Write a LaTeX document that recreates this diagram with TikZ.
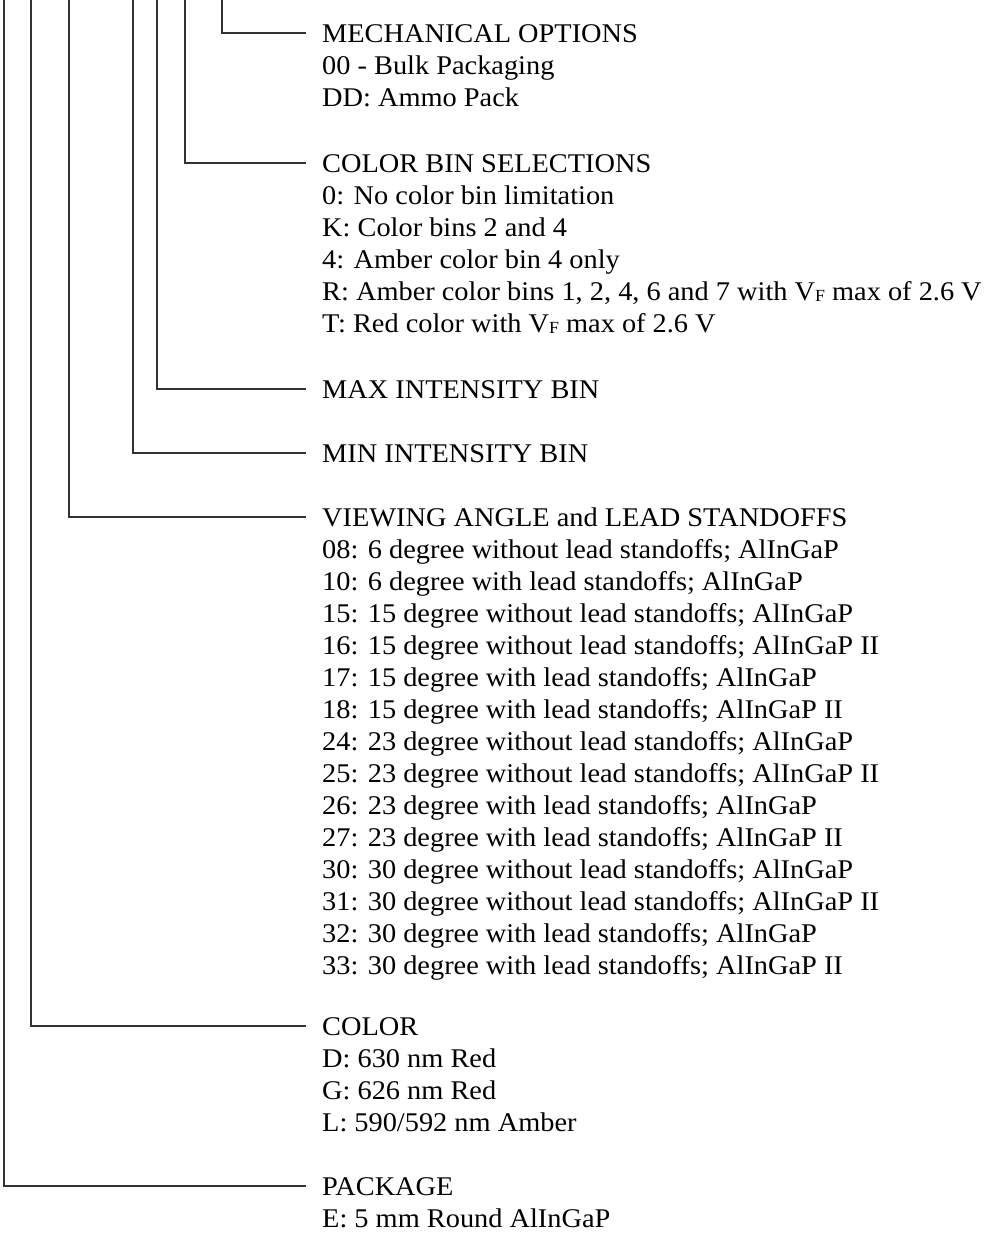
\documentclass[tikz,border=0pt]{standalone}
\usepackage{fontspec}
\setmainfont{Liberation Serif}[FakeStretch=1.05]
\newcommand\bodyfont{\fontsize{27}{32}\selectfont}
\newcommand\vsubf{V\raisebox{-1.5pt}{\fontsize{17}{17}\selectfont F}}
\begin{document}
\begin{tikzpicture}[x=1pt,y=-1pt,
  hdr/.style={anchor=west, inner xsep=16pt, inner ysep=0pt, text height=18pt, text depth=0pt, font=\bodyfont},
  item/.style={anchor=base west, inner sep=0pt, font=\bodyfont},
  lead/.style={draw=black!80, line width=1.3pt}]
\useasboundingbox (0,0) rectangle (1000,1234);
% top ends of leads
\coordinate (tMech) at (222,0);
\coordinate (tBin) at (185,0);
\coordinate (tMax) at (157,0);
\coordinate (tMin) at (133,0);
\coordinate (tView) at (69,0);
\coordinate (tColor) at (31,0);
\coordinate (tPack) at (4,0);
% headers
\node[hdr] (mech) at (306,33) {MECHANICAL OPTIONS};
\node[hdr] (bin) at (306,163) {COLOR BIN SELECTIONS};
\node[hdr] (max) at (306,389) {MAX INTENSITY BIN};
\node[hdr] (min) at (306,453) {MIN INTENSITY BIN};
\node[hdr] (view) at (306,517) {VIEWING ANGLE and LEAD STANDOFFS};
\node[hdr] (color) at (306,1026) {COLOR};
\node[hdr] (pack) at (306,1186) {PACKAGE};
% items
\foreach \t [count=\i] in {{00 - Bulk Packaging},{DD: Ammo Pack}}
  \node[item] (mech\i) at (322,{42+32*\i}) {\t};
\foreach \t [count=\i] in {{0: No color bin limitation},{K: Color bins 2 and 4},{4: Amber color bin 4 only},{R: Amber color bins 1, 2, 4, 6 and 7 with \vsubf{} max of 2.6 V},{T: Red color with \vsubf{} max of 2.6 V}}
  \node[item] (bin\i) at (322,{172+32*\i}) {\t};
\foreach \t [count=\i] in {
  {08: 6 degree without lead standoffs; AlInGaP},
  {10: 6 degree with lead standoffs; AlInGaP},
  {15: 15 degree without lead standoffs; AlInGaP},
  {16: 15 degree without lead standoffs; AlInGaP II},
  {17: 15 degree with lead standoffs; AlInGaP},
  {18: 15 degree with lead standoffs; AlInGaP II},
  {24: 23 degree without lead standoffs; AlInGaP},
  {25: 23 degree without lead standoffs; AlInGaP II},
  {26: 23 degree with lead standoffs; AlInGaP},
  {27: 23 degree with lead standoffs; AlInGaP II},
  {30: 30 degree without lead standoffs; AlInGaP},
  {31: 30 degree without lead standoffs; AlInGaP II},
  {32: 30 degree with lead standoffs; AlInGaP},
  {33: 30 degree with lead standoffs; AlInGaP II}}
  \node[item] (view\i) at (322,{526+32*\i}) {\t};
\foreach \t [count=\i] in {{D: 630 nm Red},{G: 626 nm Red},{L: 590/592 nm Amber}}
  \node[item] (color\i) at (322,{1035+32*\i}) {\t};
\node[item] (pack1) at (322,1227) {E: 5 mm Round AlInGaP};
% leads
\draw[lead] (tMech) |- (mech.west);
\draw[lead] (tBin) |- (bin.west);
\draw[lead] (tMax) |- (max.west);
\draw[lead] (tMin) |- (min.west);
\draw[lead] (tView) |- (view.west);
\draw[lead] (tColor) |- (color.west);
\draw[lead] (tPack) |- (pack.west);
\end{tikzpicture}
\end{document}
